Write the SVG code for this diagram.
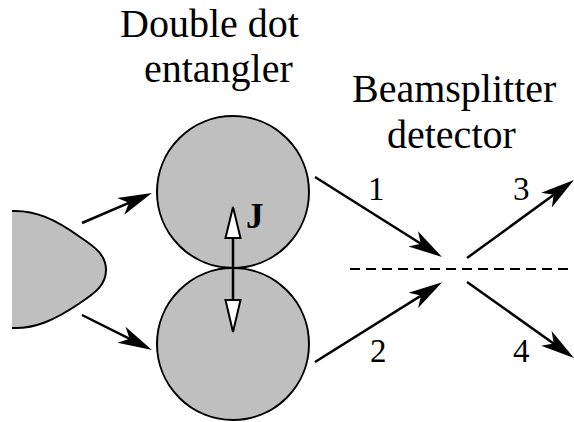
<svg xmlns="http://www.w3.org/2000/svg" width="574" height="422" viewBox="0 0 574 422">
<style>
.lbl{font-family:'Liberation Serif','Times New Roman',serif;fill:#000}
.dot{fill:#bfbfbf;stroke:#000;stroke-width:2}
.ar{fill:none;stroke:#000;stroke-width:2.5;marker-end:url(#ah)}
</style>
<defs>
<marker id="ah" markerUnits="userSpaceOnUse" markerWidth="50" markerHeight="30" viewBox="-40 -15 50 30" refX="-8" refY="0" orient="auto" overflow="visible">
<path d="M0,0 L-34,-9 L-25,0 L-34,9 Z" fill="#000"/>
</marker>
</defs>
<rect width="574" height="422" fill="#fff"/>
<g id="source">
<path d="M12,211 C35,210 55,219 80,237 C95,247 106,255 106,270 C106,285 95,293 80,303 C55,320 35,329 12,328 Z" fill="#bfbfbf"/>
<path d="M12,211 C35,210 55,219 80,237 C95,247 106,255 106,270 C106,285 95,293 80,303 C55,320 35,329 12,328" fill="none" stroke="#000" stroke-width="2"/>
</g>
<g id="dot-top"><circle class="dot" cx="233" cy="192" r="76"/></g>
<g id="dot-bottom"><circle class="dot" cx="233" cy="344" r="76"/></g>
<g id="coupling">
<line x1="233" y1="236" x2="233" y2="302" stroke="#000" stroke-width="2.5"/>
<path d="M233,207 L240.5,238 L225.5,238 Z" fill="#fff" stroke="#000" stroke-width="2"/>
<path d="M233,332 L240.5,300 L225.5,300 Z" fill="#fff" stroke="#000" stroke-width="2"/>
<text class="lbl" x="246" y="228" font-size="35" font-weight="bold">J</text>
</g>
<g id="splitter">
<line x1="350" y1="269" x2="574" y2="269" stroke="#000" stroke-width="2" stroke-dasharray="10,6"/>
</g>
<g id="connectors">
<path class="ar" d="M82,223 L144.6,196.1"/>
<path class="ar" d="M82,315 L144.8,346.4"/>
<path class="ar" d="M315,177 L435.2,252.7"/>
<path class="ar" d="M315,362 L435.4,286.6"/>
<path class="ar" d="M467,258 L567.5,184.8"/>
<path class="ar" d="M467,282 L567.6,353.4"/>
</g>
<g id="labels">
<text class="lbl" x="120" y="37" font-size="40">Double dot</text>
<text class="lbl" x="144" y="82" font-size="40">entangler</text>
<text class="lbl" x="352" y="102" font-size="40">Beamsplitter</text>
<text class="lbl" x="387" y="148" font-size="40">detector</text>
<text class="lbl" x="368" y="200" font-size="33">1</text>
<text class="lbl" x="370" y="362" font-size="33">2</text>
<text class="lbl" x="513" y="200" font-size="33">3</text>
<text class="lbl" x="513" y="362" font-size="33">4</text>
</g>
</svg>
